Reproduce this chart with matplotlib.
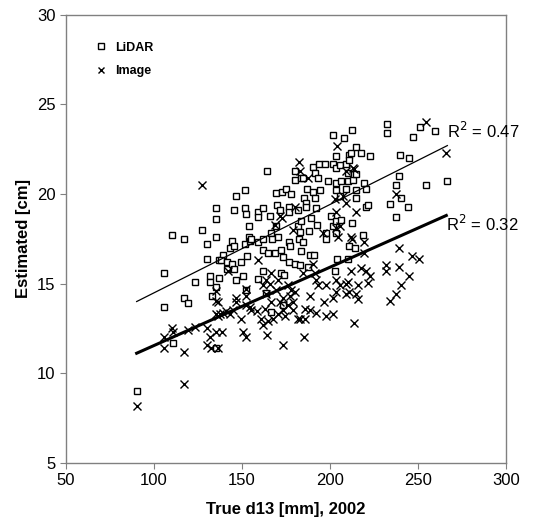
import numpy as np
import matplotlib.pyplot as plt

plt.rcParams['font.family'] = ['Liberation Sans', 'DejaVu Sans']

# LiDAR estimates (open squares)
lidar_x = [90.1, 105.7, 105.7, 110.0, 110.8, 116.9, 116.9, 119.3, 123.5, 127.5,
           129.8, 129.8, 131.6, 131.6, 133.0, 135.4, 135.4, 135.4, 135.4, 135.0,
           136.9, 136.9, 139.2, 137.9, 141.7, 141.7, 143.0, 144.0, 144.3, 145.4,
           145.4, 145.4, 146.4, 146.4, 149.6, 150.5, 151.5, 151.5, 151.5, 152.4,
           152.4, 153.0, 154.0, 154.0, 154.3, 155.3, 159.0, 159.0, 159.0, 159.0,
           161.9, 161.9, 161.9, 161.9, 163.7, 164.1, 164.7, 165.7, 166.6, 166.6,
           167.1, 168.5, 169.4, 169.4, 170.0, 170.4, 171.3, 172.3, 172.3, 172.8,
           173.2, 173.2, 173.6, 174.7, 176.6, 176.6, 176.6, 176.6, 177.0, 177.6,
           179.8, 179.8, 179.8, 181.7, 181.7, 182.3, 182.7, 182.7, 183.6, 183.6,
           183.6, 184.5, 184.5, 185.1, 186.1, 186.1, 187.0, 187.4, 188.0, 188.3,
           189.3, 190.2, 190.2, 190.6, 191.2, 191.2, 192.1, 192.5, 193.1, 193.6,
           194.0, 196.9, 197.8, 197.8, 198.7, 200.6, 201.6, 201.6, 201.6, 202.5,
           203.5, 203.5, 203.5, 203.5, 203.5, 203.5, 203.8, 205.4, 205.4, 206.3,
           206.3, 207.8, 209.2, 209.2, 210.0, 210.0, 210.0, 211.0, 211.0, 211.0,
           212.0, 212.4, 212.4, 212.9, 213.9, 214.8, 214.8, 214.8, 214.8, 217.5,
           218.6, 219.5, 220.5, 220.5, 221.4, 222.7, 232.4, 232.4, 239.8, 244.9,
           247.2, 251.1, 259.7, 239.4, 237.7, 254.7, 266.6, 240.5, 244.5, 234.3,
           237.7]
lidar_y = [9.0, 15.6, 13.7, 17.7, 11.7, 17.5, 14.2, 13.9, 15.1, 18.0,
           17.2, 16.4, 15.4, 15.1, 14.3, 19.2, 18.6, 17.6, 14.8, 11.4,
           16.3, 15.3, 16.6, 16.3, 16.2, 15.8, 17.0, 16.1, 17.4, 19.1,
           17.1, 15.8, 15.2, 19.9, 16.2, 15.4, 19.2, 17.2, 20.2, 18.9,
           14.65, 16.55, 17.6, 18.2, 17.4, 17.5, 19.0, 18.7, 17.3, 15.25,
           19.2, 17.5, 16.9, 15.7, 14.5, 21.3, 16.7, 18.8, 17.8, 13.4,
           17.5, 16.7, 20.05, 18.2, 19.4, 17.6, 19.1, 16.9, 15.6, 20.1,
           16.5, 13.8, 15.5, 20.3, 19.3, 19.0, 17.3, 16.2, 17.1, 20.0,
           21.3, 20.8, 16.1, 19.1, 18.2, 17.5, 17.9, 16.05, 18.5, 16.8,
           20.9, 20.9, 17.3, 19.8, 19.5, 19.3, 20.3, 15.95, 17.95, 16.6,
           18.65, 20.1, 21.5, 16.6, 21.2, 19.8, 19.2, 18.3, 20.9, 21.7,
           20.2, 21.7, 17.8, 17.5, 20.7, 18.8, 23.3, 21.7, 18.2, 15.7,
           20.6, 20.2, 18.5, 17.8, 22.1, 21.45, 16.4, 21.6, 19.9, 20.75,
           18.55, 23.1, 21.7, 20.3, 20.7, 21.2, 16.4, 22.2, 21.9, 17.1,
           22.3, 23.6, 18.4, 20.8, 17.0, 22.6, 21.1, 20.2, 19.8, 22.3,
           17.7, 20.6, 20.3, 19.3, 19.4, 22.1, 23.9, 23.4, 22.2, 22.0,
           23.2, 23.75, 23.5, 21.0, 20.5, 20.5, 20.7, 19.8, 19.3, 19.45,
           18.7]

# Image estimates (crosses)
image_x = [90.1, 105.7, 105.7, 110.0, 110.8, 117.1, 117.1, 119.3, 123.5, 127.5,
           129.8, 129.8, 131.6, 132.6, 135.4, 135.4, 135.4, 135.4, 136.4, 136.4,
           136.4, 137.3, 138.3, 139.2, 141.1, 142.0, 143.0, 144.9, 146.4, 146.8,
           149.6, 150.5, 152.0, 152.4, 152.4, 152.4, 154.3, 155.3, 158.2, 159.0,
           161.0, 161.9, 161.9, 162.8, 163.7, 163.7, 164.1, 164.7, 165.7, 166.6,
           166.6, 167.6, 168.5, 169.4, 170.4, 170.4, 171.3, 171.3, 172.8, 173.2,
           173.2, 173.2, 174.1, 176.0, 176.0, 177.0, 177.9, 178.9, 178.9, 178.9,
           179.8, 179.8, 181.7, 182.1, 182.7, 182.7, 184.5, 185.0, 185.5, 185.5,
           187.4, 188.3, 188.3, 190.2, 191.2, 192.1, 192.1, 193.1, 195.9, 196.8,
           197.8, 197.8, 201.6, 201.6, 202.5, 203.5, 203.5, 203.5, 203.5, 203.8,
           204.4, 205.4, 205.4, 207.2, 209.2, 209.2, 209.2, 209.2, 210.1, 211.0,
           212.0, 212.0, 212.6, 212.9, 213.3, 213.3, 214.8, 214.8, 215.7, 215.7,
           217.7, 219.5, 219.5, 220.5, 221.4, 222.4, 231.8, 231.8, 234.1, 237.5,
           237.7, 239.4, 239.4, 240.3, 244.7, 246.6, 250.7, 254.7, 266.0]
image_y = [8.2, 12.05, 11.4, 12.5, 12.3, 11.2, 9.4, 12.4, 12.6, 20.5,
           12.5, 11.6, 12.0, 11.4, 12.3, 13.3, 14.05, 14.6, 14.0, 13.2,
           11.4, 13.3, 12.3, 13.35, 13.45, 15.7, 13.3, 13.55, 14.2, 14.0,
           13.0, 12.3, 14.3, 14.7, 13.8, 12.0, 13.7, 13.55, 13.45, 16.3,
           13.0, 14.9, 12.7, 13.6, 15.2, 14.45, 12.15, 12.9, 15.0, 15.6,
           14.0, 13.0, 18.3, 14.65, 15.2, 13.3, 18.75, 14.0, 18.65, 14.2,
           13.55, 11.6, 13.2, 14.9, 13.8, 14.3, 14.65, 18.0, 14.0, 13.55,
           19.3, 14.55, 13.0, 21.8, 21.3, 13.0, 15.6, 12.05, 13.6, 13.0,
           20.9, 14.3, 13.55, 16.1, 15.6, 15.2, 13.35, 14.9, 17.8, 13.95,
           14.9, 13.2, 14.2, 13.3, 19.7, 19.0, 18.1, 15.2, 14.55, 22.7,
           17.6, 18.2, 14.9, 19.9, 21.3, 19.5, 15.0, 14.4, 15.1, 14.55,
           17.6, 15.7, 17.5, 21.45, 21.4, 12.8, 19.0, 14.45, 14.9, 14.15,
           15.85, 17.3, 16.7, 15.7, 15.05, 15.4, 16.05, 15.7, 14.05, 14.45,
           20.0, 17.0, 15.95, 14.9, 15.4, 16.55, 16.4, 24.0, 22.3]

# linear trendlines (slope, intercept)
lidar_fit = (0.0493, 9.56)
image_fit = (0.0437, 7.18)
lidar_r2 = 0.47
image_r2 = 0.32

fig = plt.figure(figsize=(5.46, 5.29), dpi=100)
ax = fig.add_axes([0.121, 0.125, 0.806, 0.847])

ax.plot(lidar_x, lidar_y, linestyle='none', marker='s', markersize=4.8,
        markerfacecolor='white', markeredgecolor='black', markeredgewidth=1.0,
        label='LiDAR')
ax.plot(image_x, image_y, linestyle='none', marker='x', markersize=5.2,
        color='black', markeredgewidth=1.0, label='Image')

xl = np.array([min(lidar_x), max(lidar_x)])
ax.plot(xl, lidar_fit[0] * xl + lidar_fit[1], color='black', lw=0.9)
xi = np.array([min(image_x), max(image_x)])
ax.plot(xi, image_fit[0] * xi + image_fit[1], color='black', lw=2.2)

ax.text(max(lidar_x), lidar_fit[0] * max(lidar_x) + lidar_fit[1] + 0.8,
        'R$^2$ = %.2f' % lidar_r2, fontsize=12, va='center', ha='left')
ax.text(max(image_x), image_fit[0] * max(image_x) + image_fit[1] - 0.45,
        'R$^2$ = %.2f' % image_r2, fontsize=12, va='center', ha='left')

ax.set_xlim(50, 300)
ax.set_ylim(5, 30)
ax.set_xticks(range(50, 301, 50))
ax.set_yticks(range(5, 31, 5))
ax.tick_params(labelsize=12, color='#808080', length=4, width=0.8)
for s in ax.spines.values():
    s.set_color('#808080')
    s.set_linewidth(1.0)

ax.set_xlabel('True d13 [mm], 2002', fontsize=12, fontweight='bold', labelpad=10)
ax.set_ylabel('Estimated [cm]', fontsize=12, fontweight='bold', labelpad=4)

leg = ax.legend(loc='upper left', bbox_to_anchor=(0.04, 0.965), frameon=False,
                prop={'size': 9, 'weight': 'bold'}, markerscale=0.8,
                handlelength=1.0, handletextpad=0.6, labelspacing=0.9)

fig.savefig('out.png', dpi=100)
